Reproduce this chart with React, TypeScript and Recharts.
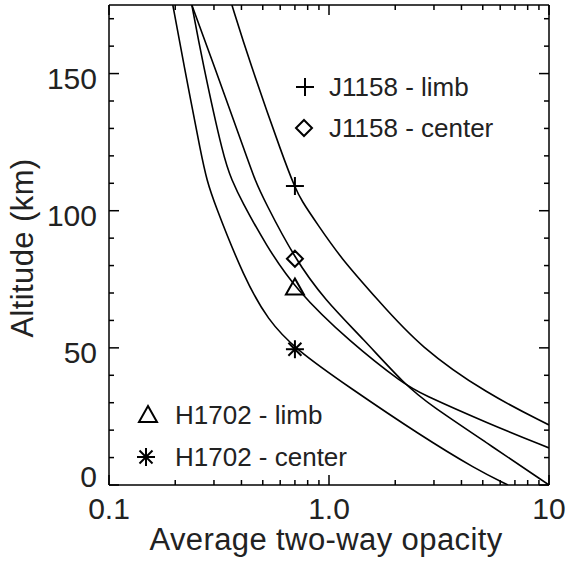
import React from 'react'
import { ComposedChart, Line, Scatter, XAxis, YAxis } from 'recharts'

// opacity (tau) vs altitude (km)
const jLimbTau = [0.362, 0.433, 0.6245, 0.7, 0.746, 0.891, 1.122, 1.67, 2.59, 5.23, 10]
const jLimbAlt = [175, 154.9, 118.5, 108.6, 103.9, 94.8, 83.1, 67.4, 50.3, 33.2, 21.9]

const jCenterTau = [0.238, 0.294, 0.428, 0.461, 0.5065, 0.7, 0.959, 1.43, 2.216, 2.877, 5.23, 10]
const jCenterAlt = [175, 154.9, 118.5, 111.2, 103.9, 82.4, 67.4, 53.3, 36.5, 29.2, 15.3, 0]

const hLimbTau = [0.238, 0.265, 0.333, 0.362, 0.398, 0.517, 0.7, 1.246, 2.216, 2.592, 5.23, 10]
const hLimbAlt = [175, 154.9, 118.5, 111.2, 103.9, 87.5, 71.5, 52.1, 36.5, 33.5, 22.6, 13.5]

const hCenterTau = [0.195, 0.217, 0.265, 0.279, 0.297, 0.415, 0.528, 0.7, 1.246, 2.59, 4.71, 6.51]
const hCenterAlt = [175, 154.9, 118.5, 111.2, 103.9, 74.7, 60.2, 49.6, 35.4, 18.2, 5.5, 0]

const markerTau = [0.7, 0.7, 0.7, 0.7]
const markerAlt = [109, 82.5, 72, 49.5]

const xMajor = [0.1, 1, 10]
const xLabels = ['0.1', '1.0', '10']
const xMinor = [0.2, 0.3, 0.4, 0.5, 0.6, 0.7, 0.8, 0.9, 2, 3, 4, 5, 6, 7, 8, 9]
const yMajor = [0, 50, 100, 150]
const yMinor = [10, 20, 30, 40, 60, 70, 80, 90, 110, 120, 130, 140, 160, 170]

const legendNames = ['J1158 - limb', 'J1158 - center', 'H1702 - limb', 'H1702 - center']

const zip = (t: number[], a: number[]) => t.map((x, i) => ({ x, y: a[i] }))

const FONT = '"Liberation Sans", Arial, Helvetica, sans-serif'
const INK = '#000'

const Plus = ({ cx, cy }: { cx: number; cy: number }) => (
  <g stroke={INK} strokeWidth={2}>
    <line x1={cx - 9} x2={cx + 9} y1={cy} y2={cy} />
    <line x1={cx} x2={cx} y1={cy - 9} y2={cy + 9} />
  </g>
)
const Diamond = ({ cx, cy }: { cx: number; cy: number }) => (
  <polygon points={`${cx},${cy - 8} ${cx + 8},${cy} ${cx},${cy + 8} ${cx - 8},${cy}`} fill="none" stroke={INK} strokeWidth={2} />
)
const Triangle = ({ cx, cy }: { cx: number; cy: number }) => (
  <polygon points={`${cx},${cy - 9} ${cx + 9},${cy + 7} ${cx - 9},${cy + 7}`} fill="none" stroke={INK} strokeWidth={2} />
)
const Asterisk = ({ cx, cy }: { cx: number; cy: number }) => (
  <g stroke={INK} strokeWidth={2}>
    <line x1={cx} x2={cx} y1={cy - 9} y2={cy + 9} />
    <line x1={cx - 9} x2={cx + 9} y1={cy} y2={cy} />
    <line x1={cx - 6.5} x2={cx + 6.5} y1={cy - 6.5} y2={cy + 6.5} />
    <line x1={cx - 6.5} x2={cx + 6.5} y1={cy + 6.5} y2={cy - 6.5} />
  </g>
)
const symbols = [Plus, Diamond, Triangle, Asterisk]

const BottomTick = (p: any) => {
  const i = xMajor.indexOf(p.payload.value)
  const len = i >= 0 ? 10 : 5
  return (
    <g>
      <line x1={p.x} x2={p.x} y1={p.y} y2={p.y - len} stroke={INK} strokeWidth={1.5} />
      {i >= 0 && (
        <text x={p.x} y={p.y + 34} textAnchor="middle" fontSize={30} fontFamily={FONT} fill="#222">
          {xLabels[i]}
        </text>
      )}
    </g>
  )
}

const TopTick = (p: any) => {
  const len = xMajor.includes(p.payload.value) ? 10 : 5
  return <line x1={p.x} x2={p.x} y1={p.y} y2={p.y + len} stroke={INK} strokeWidth={1.5} />
}

const LeftTick = (p: any) => {
  const v = p.payload.value
  const major = yMajor.includes(v)
  const len = major ? 10 : 5
  return (
    <g>
      <line x1={p.x} x2={p.x + len} y1={p.y} y2={p.y} stroke={INK} strokeWidth={1.5} />
      {major && (
        <text x={p.x - 12} y={p.y + (v === 0 ? 2 : 15)} textAnchor="end" fontSize={30} fontFamily={FONT} fill="#222">
          {v}
        </text>
      )}
    </g>
  )
}

const RightTick = (p: any) => {
  const len = yMajor.includes(p.payload.value) ? 10 : 5
  return <line x1={p.x} x2={p.x - len} y1={p.y} y2={p.y} stroke={INK} strokeWidth={1.5} />
}

const curves = [
  zip(jLimbTau, jLimbAlt),
  zip(jCenterTau, jCenterAlt),
  zip(hLimbTau, hLimbAlt),
  zip(hCenterTau, hCenterAlt),
]

const legendPos = [
  { sx: 305, sy: 87, tx: 329 },
  { sx: 304, sy: 128, tx: 329 },
  { sx: 148, sy: 415, tx: 175 },
  { sx: 146, sy: 457, tx: 175 },
]

export default function App() {
  const xTicks = [...xMajor, ...xMinor].sort((a, b) => a - b)
  const yTicks = [...yMajor, ...yMinor].sort((a, b) => a - b)
  const axisLine = { stroke: INK, strokeWidth: 1.5 }

  return (
    <div style={{ position: 'absolute', left: 0, top: 0, width: 569, height: 561, background: '#fff' }}>
      <ComposedChart width={569} height={561} margin={{ top: 4, right: 19, bottom: 75, left: 108 }}>
        <XAxis
          xAxisId="b"
          dataKey="x"
          type="number"
          scale="log"
          domain={[0.1, 10]}
          allowDataOverflow
          ticks={xTicks}
          interval={0}
          height={1}
          tickSize={0}
          tickMargin={0}
          tickLine={false}
          axisLine={axisLine}
          tick={(p: any) => <BottomTick {...p} />}
        />
        <XAxis
          xAxisId="t"
          orientation="top"
          dataKey="x"
          type="number"
          scale="log"
          domain={[0.1, 10]}
          allowDataOverflow
          ticks={xTicks}
          interval={0}
          height={1}
          tickSize={0}
          tickMargin={0}
          tickLine={false}
          axisLine={axisLine}
          tick={(p: any) => <TopTick {...p} />}
        />
        <YAxis
          yAxisId="l"
          type="number"
          domain={[0, 175]}
          allowDataOverflow
          ticks={yTicks}
          interval={0}
          width={1}
          tickSize={0}
          tickMargin={0}
          tickLine={false}
          axisLine={axisLine}
          tick={(p: any) => <LeftTick {...p} />}
        />
        <YAxis
          yAxisId="r"
          orientation="right"
          type="number"
          domain={[0, 175]}
          allowDataOverflow
          ticks={yTicks}
          interval={0}
          width={1}
          tickSize={0}
          tickMargin={0}
          tickLine={false}
          axisLine={axisLine}
          tick={(p: any) => <RightTick {...p} />}
        />
        {curves.map((d, i) => (
          <Line
            key={'c' + i}
            xAxisId="b"
            yAxisId="l"
            data={d}
            dataKey="y"
            type="basis"
            stroke={INK}
            strokeWidth={1.6}
            dot={false}
            activeDot={false}
            isAnimationActive={false}
          />
        ))}
        {symbols.map((S, i) => (
          <Scatter
            key={'m' + i}
            xAxisId="b"
            yAxisId="l"
            data={[{ x: markerTau[i], y: markerAlt[i] }]}
            dataKey="y"
            shape={(p: any) => <S cx={p.cx} cy={p.cy} />}
            isAnimationActive={false}
          />
        ))}
      </ComposedChart>
      <svg width={569} height={561} style={{ position: 'absolute', left: 0, top: 0, pointerEvents: 'none' }}>
        {legendPos.map((l, i) => {
          const S = symbols[i]
          return (
            <g key={i}>
              <S cx={l.sx} cy={l.sy} />
              <text x={l.tx} y={l.sy + 9} fontSize={26} fontFamily={FONT} fill="#222">
                {legendNames[i]}
              </text>
            </g>
          )
        })}
        <text x={326} y={550} textAnchor="middle" fontSize={31} letterSpacing={0.4} fontFamily={FONT} fill="#222">
          Average two-way opacity
        </text>
        <text
          x={33}
          y={248}
          transform="rotate(-90 33 248)"
          textAnchor="middle"
          fontSize={31}
          letterSpacing={0.4}
          fontFamily={FONT}
          fill="#222"
        >
          Altitude (km)
        </text>
      </svg>
    </div>
  )
}
